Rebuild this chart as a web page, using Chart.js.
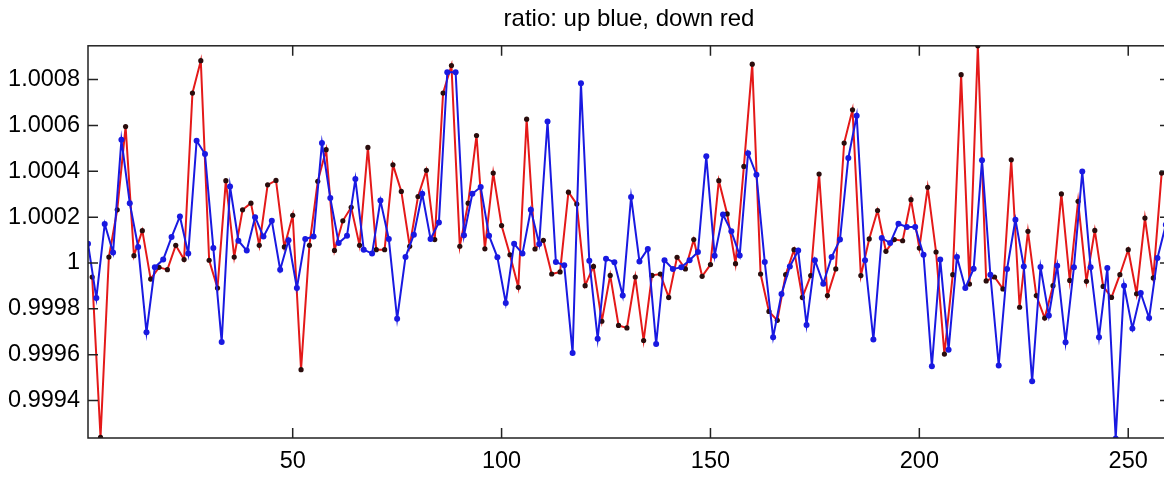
<!DOCTYPE html>
<html>
<head>
<meta charset="utf-8">
<style>
  html, body { margin: 0; padding: 0; background: #fff; overflow: hidden; }
  canvas { display: block; }
</style>
<script src="https://cdn.jsdelivr.net/npm/chart.js@4/dist/chart.umd.min.js"></script>
</head>
<body>
<canvas id="chart" width="1174" height="478"></canvas>
<script>
// ratio values, blue at odd x (1..259), red at even x (2..258)
const blueVals = [
  1.000084, 0.999847, 1.000170, 1.000046, 1.000537, 1.000261, 1.000070, 0.999698, 0.999981, 1.000015,
  1.000113, 1.000203, 1.000041, 1.000533, 1.000475, 1.000065, 0.999656, 1.000334, 1.000097, 1.000054,
  1.000200, 1.000115, 1.000184, 0.999971, 1.000099, 0.999891, 1.000105, 1.000116, 1.000523, 1.000283,
  1.000087, 1.000119, 1.000366, 1.000058, 1.000041, 1.000272, 1.000105, 0.999757, 1.000026, 1.000123,
  1.000302, 1.000105, 1.000177, 1.000832, 1.000832, 1.000121, 1.000302, 1.000331, 1.000119, 1.000025,
  0.999826, 1.000084, 1.000041, 1.000232, 1.000083, 1.000617, 1.000004, 0.999990, 0.999608, 1.000784,
  1.000010, 0.999670, 1.000019, 1.000003, 0.999858, 1.000288, 1.000007, 1.000061, 0.999647, 1.000012,
  0.999974, 0.999981, 1.000012, 1.000048, 1.000465, 1.000032, 1.000211, 1.000138, 1.000033, 1.000479,
  1.000385, 1.000004, 0.999676, 0.999865, 0.999985, 1.000054, 0.999730, 1.000012, 0.999910, 1.000026,
  1.000102, 1.000458, 1.000642, 1.000012, 0.999666, 1.000109, 1.000087, 1.000171, 1.000157, 1.000157,
  1.000036, 0.999550, 1.000015, 0.999622, 1.000026, 0.999891, 0.999975, 1.000448, 0.999949, 0.999553,
  0.999974, 1.000189, 0.999985, 0.999484, 0.999983, 0.999771, 0.999988, 0.999654, 0.999981, 1.000399,
  0.999981, 0.999676, 0.999978, 0.999235, 0.999901, 0.999714, 0.999869, 0.999760, 1.000022, 1.000167
];
const redVals = [
  0.999939, 0.999240, 1.000026, 1.000232, 1.000595, 1.000032, 1.000141, 0.999930, 0.999981, 0.999971,
  1.000077, 1.000015, 1.000741, 1.000882, 1.000012, 0.999891, 1.000359, 1.000026, 1.000232, 1.000261,
  1.000077, 1.000341, 1.000360, 1.000070, 1.000208, 0.999535, 1.000077, 1.000356, 1.000494, 1.000055,
  1.000184, 1.000243, 1.000077, 1.000504, 1.000058, 1.000058, 1.000428, 1.000312, 1.000073, 1.000290,
  1.000404, 1.000102, 1.000741, 1.000861, 1.000073, 1.000261, 1.000556, 1.000062, 1.000392, 1.000163,
  1.000036, 0.999894, 1.000627, 1.000061, 1.000099, 0.999952, 0.999961, 1.000309, 1.000257, 0.999901,
  0.999985, 0.999746, 0.999946, 0.999728, 0.999717, 0.999939, 0.999662, 0.999946, 0.999952, 0.999850,
  1.000025, 0.999974, 1.000102, 0.999942, 0.999993, 1.000359, 1.000214, 0.999997, 1.000421, 1.000867,
  0.999952, 0.999789, 0.999750, 0.999949, 1.000058, 0.999850, 0.999945, 1.000388, 0.999858, 0.999974,
  1.000523, 1.000668, 0.999945, 1.000105, 1.000229, 1.000051, 1.000102, 1.000097, 1.000276, 1.000065,
  1.000330, 1.000048, 0.999603, 0.999949, 1.000821, 0.999908, 1.000947, 0.999922, 0.999939, 0.999887,
  1.000450, 0.999807, 1.000138, 0.999858, 0.999760, 0.999901, 1.000301, 0.999924, 1.000269, 0.999920,
  1.000142, 0.999898, 0.999850, 0.999949, 1.000058, 0.999866, 1.000196, 0.999935, 1.000392
];
const xTicks = [50, 100, 150, 200, 250];
const yTicks = [0.9994, 0.9996, 0.9998, 1, 1.0002, 1.0004, 1.0006, 1.0008];

const blueData = blueVals.map((v, i) => ({ x: 2 * i + 1, y: v }));
const redData = redVals.map((v, i) => ({ x: 2 * i + 2, y: v }));

const font = 'Liberation Sans, Arial, Helvetica, sans-serif';

// matlab style box with inward ticks on all four sides
const boxPlugin = {
  id: 'box',
  afterDraw(chart) {
    const { ctx, chartArea: a, scales } = chart;
    const len = 10;
    ctx.save();
    ctx.strokeStyle = '#222';
    ctx.lineWidth = 1.5;
    ctx.strokeRect(a.left, a.top, a.right - a.left, a.bottom - a.top);
    ctx.beginPath();
    xTicks.forEach(t => {
      const px = scales.x.getPixelForValue(t);
      ctx.moveTo(px, a.bottom); ctx.lineTo(px, a.bottom - len);
      ctx.moveTo(px, a.top); ctx.lineTo(px, a.top + len);
    });
    yTicks.forEach(t => {
      const py = scales.y.getPixelForValue(t);
      ctx.moveTo(a.left, py); ctx.lineTo(a.left + len, py);
      ctx.moveTo(a.right, py); ctx.lineTo(a.right - len, py);
    });
    ctx.stroke();
    ctx.restore();
  }
};

new Chart(document.getElementById('chart'), {
  type: 'line',
  data: {
    datasets: [
      {
        label: 'up',
        data: blueData,
        borderColor: 'rgb(25,25,225)',
        borderWidth: 2,
        pointRadius: 3,
        pointBackgroundColor: 'rgb(25,25,225)',
        pointBorderWidth: 0,
        tension: 0
      },
      {
        label: 'down',
        data: redData,
        borderColor: 'rgb(228,25,25)',
        borderWidth: 2,
        pointRadius: 2.6,
        pointBackgroundColor: '#2a0d0d',
        pointBorderWidth: 0,
        tension: 0
      }
    ]
  },
  options: {
    responsive: false,
    animation: false,
    layout: { padding: { left: 0, right: 4, top: 0, bottom: 0 } },
    plugins: {
      legend: { display: false },
      tooltip: { enabled: false },
      title: {
        display: true,
        text: 'ratio: up blue, down red',
        fullSize: false,
        color: '#000',
        font: { family: font, size: 24, weight: 'normal' },
        padding: { top: 5, bottom: 12 }
      }
    },
    scales: {
      x: {
        type: 'linear',
        min: 1,
        max: 260,
        grid: { display: false, drawTicks: false },
        border: { display: false },
        afterBuildTicks: s => { s.ticks = xTicks.map(v => ({ value: v })); },
        afterFit: s => { s.height = 40; },
        ticks: {
          color: '#000',
          padding: 9,
          maxRotation: 0,
          font: { family: font, size: 23.5 }
        }
      },
      y: {
        min: 0.999237,
        max: 1.000947,
        grid: { display: false, drawTicks: false },
        border: { display: false },
        afterBuildTicks: s => { s.ticks = yTicks.map(v => ({ value: v })); },
        afterFit: s => { s.width = 88; },
        ticks: {
          color: '#000',
          padding: 8,
          font: { family: font, size: 23.5 },
          callback: v => String(Number(v.toFixed(4)))
        }
      }
    }
  },
  plugins: [boxPlugin]
});
</script>
</body>
</html>
